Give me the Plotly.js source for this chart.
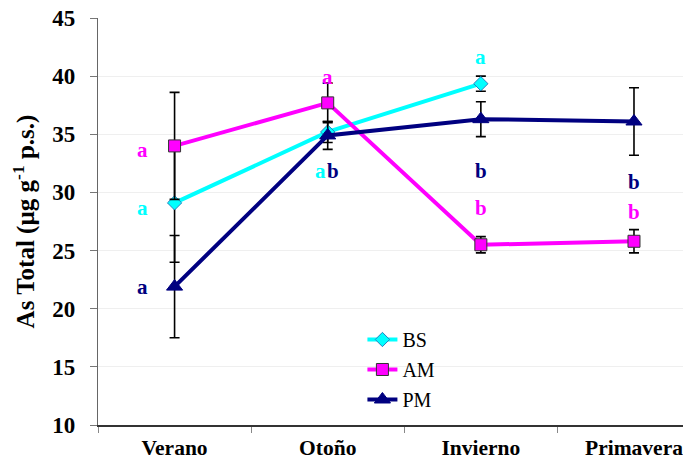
<!DOCTYPE html>
<html>
<head>
<meta charset="utf-8">
<script src="https://cdn.plot.ly/plotly-3.0.1.min.js"></script>
<style>html,body{margin:0;padding:0;background:#fff;}#chart{width:683px;height:470px;}</style>
</head>
<body>
<div id="chart"></div>
<script>
const seasons = ["Verano", "Otoño", "Invierno", "Primavera"];
const bsValues = [29.1, 35.2, 39.35, null];
const bsErrors = [5.1, 0.9, 0.65, null];
const amValues = [34.0, 37.7, 25.5, 25.8];
const amErrors = [4.6, 1.7, 0.7, 1.0];
const pmValues = [21.9, 34.9, 36.3, 36.1];
const pmErrors = [4.4, 1.2, 1.5, 2.9];
const yTicks = [10, 15, 20, 25, 30, 35, 40, 45];

// significance letters: [season, letter, y position (data units)]
const bsLetters = [["Verano", "a", 28.7], ["Otoño", "a", 31.85], ["Invierno", "a", 41.65]];
const amLetters = [["Verano", "a", 33.65], ["Otoño", "a", 39.9], ["Invierno", "b", 28.7], ["Primavera", "b", 28.3]];
const pmLetters = [["Verano", "a", 21.9], ["Otoño", "b", 31.85], ["Invierno", "b", 31.85], ["Primavera", "b", 30.9]];

const CYAN = "#00FFFF", MAG = "#FF00FF", NAVY = "#000080";
const serif = "Liberation Serif, Times New Roman, serif";

function errs(arr) {
  return {type: "data", array: arr, visible: true, color: "#000", thickness: 1.6, width: 5};
}

const traces = [
  {name: "BS", x: seasons, y: bsValues, error_y: errs(bsErrors), type: "scatter", mode: "lines+markers",
   legendgroup: "bs", line: {color: CYAN, width: 4},
   marker: {symbol: "diamond", size: 11, color: CYAN, line: {color: "#2a7fbf", width: 1}}},
  {name: "AM", x: seasons, y: amValues, error_y: errs(amErrors), type: "scatter", mode: "lines+markers",
   legendgroup: "am", line: {color: MAG, width: 4},
   marker: {symbol: "square", size: 12, color: MAG, line: {color: "#333", width: 1}}},
  {name: "PM", x: seasons, y: pmValues, error_y: errs(pmErrors), type: "scatter", mode: "lines+markers",
   legendgroup: "pm", line: {color: NAVY, width: 4},
   marker: {symbol: "triangle-up", size: 14, color: NAVY, line: {color: NAVY, width: 1}}}
];

const shiftFor = {"Verano": -32, "Otoño": 0, "Invierno": 0, "Primavera": 0};
const annotations = [];
function addLetters(list, color, key) {
  list.forEach(([s, l, y]) => {
    let xs = shiftFor[s];
    if (s === "Otoño" && y < 33) xs = key === "bs" ? -7 : 5;
    annotations.push({x: s, y: y, text: l, showarrow: false, xshift: xs,
      font: {family: serif, size: 21, color: color, weight: "bold"}});
  });
}
addLetters(bsLetters, CYAN, "bs");
addLetters(amLetters, MAG, "am");
addLetters(pmLetters, NAVY, "pm");

const layout = {
  width: 683, height: 470,
  margin: {l: 98, r: 0, t: 18, b: 45},
  paper_bgcolor: "#fff", plot_bgcolor: "#fff",
  showlegend: true,
  legend: {x: 0.452, y: 0.258, xanchor: "left", yanchor: "top", bgcolor: "rgba(0,0,0,0)",
    font: {family: serif, size: 20, color: "#000"}, tracegroupgap: 1},
  xaxis: {type: "category", range: [-0.5, 3.32], tickson: "boundaries", ticks: "outside", ticklen: 6,
    tickcolor: "#888", showgrid: false, showline: true, linecolor: "#333", linewidth: 1.5,
    ticklabelstandoff: 3,
    tickfont: {family: serif, size: 21.5, color: "#000", weight: "bold"}, zeroline: false},
  yaxis: {range: [10, 45], tickvals: yTicks, ticks: "outside", ticklen: 7, tickcolor: "#777",
    showline: true, linecolor: "#666", linewidth: 1.2, showgrid: true, gridcolor: "#efefef",
    ticklabelstandoff: 10,
    zeroline: false, tickfont: {family: serif, size: 23, color: "#000", weight: "bold"},
    title: {text: "As Total (µg g<sup>-1</sup> p.s.)", standoff: 10,
      font: {family: serif, size: 25, color: "#000", weight: "bold"}}},
  annotations: annotations
};

Plotly.newPlot("chart", traces, layout, {displayModeBar: false, staticPlot: true});
</script>
</body>
</html>
